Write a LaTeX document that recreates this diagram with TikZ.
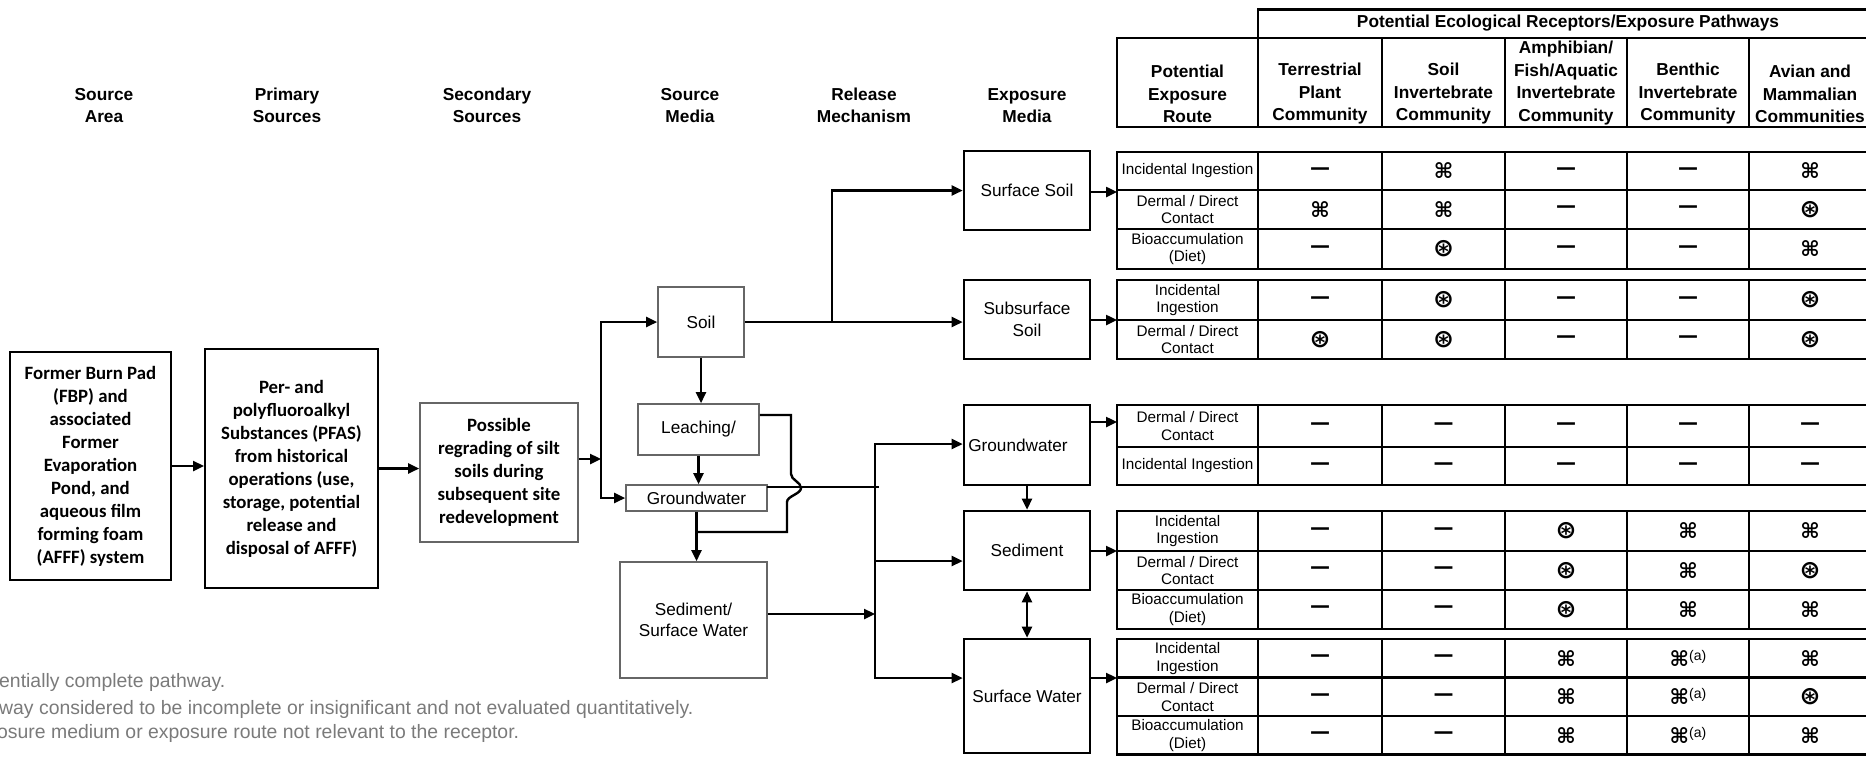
\documentclass[tikz,border=0pt]{standalone}
\usepackage{fontspec}
\setmainfont{Liberation Sans}
\newfontfamily\calfont{Carlito}
\newfontfamily\symfont{DejaVu Sans}
\usetikzlibrary{arrows.meta}

% cell symbols
\newcommand\pnone{{\symfont\bfseries\fontsize{20}{20}\selectfont —}}
\newcommand\pfull{{\symfont\bfseries\fontsize{21}{21}\selectfont ⌘}}
\newcommand\ppart{{\symfont\bfseries\fontsize{25}{25}\selectfont ⊛}}
\newcommand\pfulla{\pfull\raisebox{6pt}{\fontsize{14}{14}\selectfont(a)}}

% one row of the receptor table: name, centre y, route, five receptor entries
\newcommand\cellrow[8]{%
  \node[route] (#1r) at (1187.5,#2) {#3};
  \node[symcell] (#1a) at (1320,#2) {#4};
  \node[symcell] (#1b) at (1443.5,#2) {#5};
  \node[symcell] (#1c) at (1566,#2) {#6};
  \node[symcell] (#1d) at (1688,#2) {#7};
  \node[symcell] (#1e) at (1810,#2) {#8};
}
% outline and column rules of one block of the table: top, bottom
\newcommand\tgroup[2]{%
  \draw[grid] (1117,#1) rectangle (1871,#2);
  \foreach \cx in {1258,1382,1505,1627,1749} {\draw[grid] (\cx,#1) -- (\cx,#2);}
}
\newcommand\trule[1]{\draw[grid] (1117,#1) -- (1871,#1);}

\tikzset{
  conn/.style={line width=2.4pt, -{Triangle[length=11pt,width=10pt]}},
  dconn/.style={line width=2.4pt, {Triangle[length=11pt,width=10pt]}-{Triangle[length=11pt,width=10pt]}},
  wire/.style={line width=2.4pt, line cap=rect},
  hdr/.style={font=\bfseries\fontsize{17.3}{22.5}\selectfont, align=center, inner sep=0pt},
  srcbox/.style={draw, line width=2pt, inner sep=0pt, align=center, font=\calfont\bfseries\fontsize{18.8}{23}\selectfont},
  thinbox/.style={draw=black!60, line width=1.6pt, inner sep=0pt, align=center, font=\fontsize{17.2}{20.5}\selectfont},
  ebox/.style={draw, line width=2.6pt, inner sep=0pt, align=center, font=\fontsize{17.2}{21.5}\selectfont},
  route/.style={inner sep=0pt, align=center, font=\fontsize{15.3}{17.8}\selectfont},
  symcell/.style={inner sep=0pt},
  grid/.style={line width=2.8pt},
  legendtext/.style={anchor=west, inner sep=0pt, text=black!52, font=\fontsize{19.4}{19.4}\selectfont},
}

\begin{document}
\begin{tikzpicture}[x=1pt,y=-1pt]
\useasboundingbox (0,0) rectangle (1866,756);

% ---- column headings
\node[hdr] (hA) at (104,105.5) {Source\\Area};
\node[hdr] (hB) at (287,105.5) {Primary\\Sources};
\node[hdr] (hC) at (487,105.5) {Secondary\\Sources};
\node[hdr] (hD) at (690,105.5) {Source\\Media};
\node[hdr] (hE) at (864,105.5) {Release\\Mechanism};
\node[hdr] (hF) at (1027,105.5) {Exposure\\Media};

% ---- sources
\node[srcbox, minimum width=161, minimum height=228] (fbp) at (90.5,466)
  {Former Burn Pad\\(FBP) and\\associated\\Former\\Evaporation\\Pond, and\\aqueous film\\forming foam\\(AFFF) system};
\node[srcbox, minimum width=173, minimum height=239] (pfas) at (291.5,468.5)
  {Per- and\\polyfluoroalkyl\\Substances (PFAS)\\from historical\\operations (use,\\storage, potential\\release and\\disposal of AFFF)};
\node[srcbox, draw=black!60, line width=1.6pt, minimum width=158, minimum height=139] (regr) at (499,472.5)
  {Possible\\regrading of silt\\soils during\\subsequent site\\redevelopment};

% ---- source media
\node[thinbox, minimum width=86, minimum height=70] (soil) at (701,322) {Soil};
\node[thinbox, minimum width=121, minimum height=51] (leach) at (698.5,429.5) {Leaching/};
\node[thinbox, minimum width=141, minimum height=26] (gws) at (696.5,498) {Groundwater};
\node[thinbox, minimum width=147, minimum height=116] (sedsw) at (693.5,620) {Sediment/\\Surface Water};

% ---- exposure media
\node[ebox, minimum width=126, minimum height=79] (ssoil) at (1027,190.5) {Surface Soil};
\node[ebox, minimum width=126, minimum height=79] (sub) at (1027,319.5) {Subsurface\\Soil};
\node[ebox, minimum width=126, minimum height=80] (gwe) at (1027,445) {\hspace*{-18pt}Groundwater};
\node[ebox, minimum width=126, minimum height=79] (sed) at (1027,550.5) {Sediment};
\node[ebox, minimum width=126, minimum height=114] (sw) at (1027,696) {Surface Water};

% ---- junction points
\coordinate (busT) at (601,322);
\coordinate (busB) at (601,498);
\coordinate (busIn) at (601,459);
\coordinate (br) at (832,322);
\coordinate (jn) at (878,487);
\coordinate (lk1) at (791,415);
\coordinate (lk2) at (791,474);
\coordinate (lk3) at (787,502);
\coordinate (lk4) at (787,532);
\coordinate (b2T) at (875,444);
\coordinate (b2M) at (875,561);
\coordinate (b2B) at (875,678);
\coordinate (swIn) at (875,614);
\coordinate (t1) at (1117,192);
\coordinate (t2) at (1117,320);
\coordinate (t3) at (1117,422);
\coordinate (t4) at (1117,551);
\coordinate (t5) at (1117,678);

% ---- connectors
\draw[conn] (fbp.east) -- (fbp.east -| pfas.west);
\draw[conn] (pfas.east) -- (pfas.east -| regr.west);
\draw[conn] (regr.east |- busIn) -- (busIn);
\draw[wire] (busT) -- (busB);
\draw[conn] (busT) -- (soil.west);
\draw[conn] (busB) -- (gws.west);
\draw[conn] (soil.south) -- (soil.south |- leach.north);
\draw[conn] (leach.south) -- (leach.south |- gws.north);
\draw[conn] (soil.east) -- (soil.east -| sub.west);
\draw[conn] (br) |- (ssoil.west);
\draw[wire] (gws.east |- jn) -- (jn);
\draw[wire, line cap=butt] (leach.east |- lk1) -- (lk1) -- (lk2)
  .. controls (791,480) and (801,482) .. (801,488)
  .. controls (801,494) and (787,496) .. (lk3) -- (lk4) -- (gws.south |- lk4);
\draw[conn] (gws.south) -- (gws.south |- sedsw.north);
\draw[conn] (sedsw.east |- swIn) -- (swIn);
\draw[wire] (b2T) -- (b2B);
\draw[conn] (b2T) -- (b2T -| gwe.west);
\draw[conn] (b2M) -- (b2M -| sed.west);
\draw[conn] (b2B) -- (b2B -| sw.west);
\draw[conn] (gwe.south) -- (sed.north);
\draw[dconn] (sed.south) -- (sw.north);
\draw[conn] (ssoil.east |- t1) -- (t1);
\draw[conn] (sub.east |- t2) -- (t2);
\draw[conn] (gwe.east |- t3) -- (t3);
\draw[conn] (sed.east |- t4) -- (t4);
\draw[conn] (sw.east |- t5) -- (t5);

% ---- receptor table: heading
\draw[grid] (1258,9.5) rectangle (1871,38);
\draw[grid] (1117,38) rectangle (1871,127);
\foreach \cx in {1258,1382,1505,1627,1749} {\draw[grid] (\cx,38) -- (\cx,127);}
\node[hdr] (top) at (1568,23.5) {Potential Ecological Receptors/Exposure Pathways};
\node[hdr] (c0) at (1187.5,94) {Potential\\Exposure\\Route};
\node[hdr] (c1) at (1320,94) {Terrestrial\\Plant\\Community};
\node[hdr] (c2) at (1443.5,94) {Soil\\Invertebrate\\Community};
\node[hdr] (c3) at (1566,83) {Amphibian/\\Fish/Aquatic\\Invertebrate\\Community};
\node[hdr] (c4) at (1688,94) {Benthic\\Invertebrate\\Community};
\node[hdr] (c5) at (1810,94) {Avian and\\Mammalian\\Communities};

% ---- receptor table: blocks
\tgroup{152}{269} \trule{190} \trule{229}
\tgroup{280}{359} \trule{320}
\tgroup{405}{485} \trule{447}
\tgroup{511}{629} \trule{551} \trule{590}
\tgroup{639}{754.5} \trule{677.5} \trule{716}

\cellrow{sa}{171}{Incidental Ingestion}{\pnone}{\pfull}{\pnone}{\pnone}{\pfull}
\cellrow{sb}{209.5}{Dermal / Direct\\Contact}{\pfull}{\pfull}{\pnone}{\pnone}{\ppart}
\cellrow{sc}{249}{Bioaccumulation\\(Diet)}{\pnone}{\ppart}{\pnone}{\pnone}{\pfull}
\cellrow{ua}{300}{Incidental\\Ingestion}{\pnone}{\ppart}{\pnone}{\pnone}{\ppart}
\cellrow{ub}{339.5}{Dermal / Direct\\Contact}{\ppart}{\ppart}{\pnone}{\pnone}{\ppart}
\cellrow{ga}{426}{Dermal / Direct\\Contact}{\pnone}{\pnone}{\pnone}{\pnone}{\pnone}
\cellrow{gb}{466}{Incidental Ingestion}{\pnone}{\pnone}{\pnone}{\pnone}{\pnone}
\cellrow{da}{531}{Incidental\\Ingestion}{\pnone}{\pnone}{\ppart}{\pfull}{\pfull}
\cellrow{db}{570.5}{Dermal / Direct\\Contact}{\pnone}{\pnone}{\ppart}{\pfull}{\ppart}
\cellrow{dc}{609.5}{Bioaccumulation\\(Diet)}{\pnone}{\pnone}{\ppart}{\pfull}{\pfull}
\cellrow{wa}{658.25}{Incidental\\Ingestion}{\pnone}{\pnone}{\pfull}{\pfulla}{\pfull}
\cellrow{wb}{696.75}{Dermal / Direct\\Contact}{\pnone}{\pnone}{\pfull}{\pfulla}{\ppart}
\cellrow{wc}{735.25}{Bioaccumulation\\(Diet)}{\pnone}{\pnone}{\pfull}{\pfulla}{\pfull}

% ---- key
\node[legendtext] (k1) at (-1,682) {entially complete pathway.};
\node[legendtext] (k2) at (-1,709) {way considered to be incomplete or insignificant and not evaluated quantitatively.};
\node[legendtext] (k3) at (-3,733) {osure medium or exposure route not relevant to the receptor.};
\end{tikzpicture}
\end{document}
